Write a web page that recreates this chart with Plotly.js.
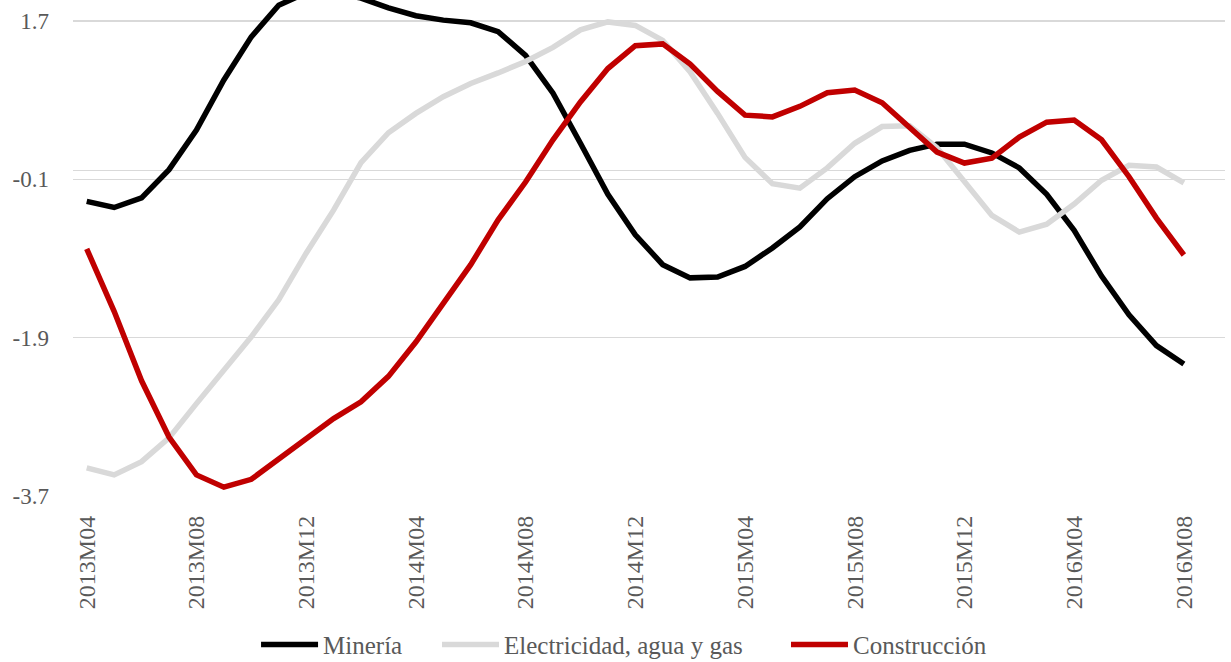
<!DOCTYPE html>
<html>
<head>
<meta charset="utf-8">
<script src="https://cdn.plot.ly/plotly-3.0.1.min.js"></script>
<style>html,body{margin:0;padding:0;background:#fff;}#chart{width:1231px;height:662px;}</style>
</head>
<body>
<div id="chart"></div>
<script>
var months = ["2013M04","2013M05","2013M06","2013M07","2013M08","2013M09","2013M10","2013M11","2013M12",
"2014M01","2014M02","2014M03","2014M04","2014M05","2014M06","2014M07","2014M08","2014M09","2014M10","2014M11","2014M12",
"2015M01","2015M02","2015M03","2015M04","2015M05","2015M06","2015M07","2015M08","2015M09","2015M10","2015M11","2015M12",
"2016M01","2016M02","2016M03","2016M04","2016M05","2016M06","2016M07","2016M08"];

var mineria = [-0.35,-0.42,-0.31,0.01,0.46,1.03,1.52,1.88,2.02,2.03,1.96,1.85,1.76,1.71,1.68,1.58,1.31,0.88,0.31,-0.27,-0.73,
-1.07,-1.22,-1.21,-1.09,-0.88,-0.64,-0.32,-0.07,0.11,0.23,0.30,0.30,0.20,0.03,-0.27,-0.68,-1.20,-1.64,-1.99,-2.20];

var electricidad = [-3.38,-3.46,-3.31,-3.04,-2.65,-2.28,-1.89,-1.47,-0.94,-0.45,0.09,0.43,0.65,0.84,0.99,1.11,1.24,1.40,1.60,1.69,1.65,
1.48,1.12,0.65,0.15,-0.15,-0.20,0.03,0.31,0.50,0.51,0.26,-0.13,-0.51,-0.70,-0.61,-0.38,-0.11,0.06,0.04,-0.14];

var construccion = [-0.89,-1.60,-2.39,-3.03,-3.46,-3.60,-3.51,-3.28,-3.04,-2.82,-2.63,-2.34,-1.95,-1.52,-1.07,-0.56,-0.13,0.35,0.78,1.16,1.42,
1.44,1.21,0.90,0.63,0.61,0.73,0.885,0.915,0.77,0.50,0.21,0.085,0.14,0.38,0.55,0.575,0.35,-0.07,-0.54,-0.96];

var seriesNames = ["Minería","Electricidad, agua y gas","Construcción"];
var xTickVals = ["2013M04","2013M08","2013M12","2014M04","2014M08","2014M12","2015M04","2015M08","2015M12","2016M04","2016M08"];
var yTickVals = [1.7,-0.1,-1.9,-3.7];
var yTickText = ["1.7","-0.1","-1.9","-3.7"];

var fontFam = "Liberation Serif, Times New Roman, serif";
var traces = [
  {x: months, y: mineria, name: seriesNames[0], type: "scatter", mode: "lines", line: {color: "#000000", width: 5.5}, legend: "legend"},
  {x: months, y: electricidad, name: seriesNames[1], type: "scatter", mode: "lines", line: {color: "#d9d9d9", width: 5.5}, legend: "legend2"},
  {x: months, y: construccion, name: seriesNames[2], type: "scatter", mode: "lines", line: {color: "#c00000", width: 5.5}, legend: "legend3"}
];

function leg(xp) {
  return {
    orientation: "h", xref: "container", yref: "container",
    x: xp, xanchor: "left", y: 0.026, yanchor: "middle",
    font: {family: fontFam, size: 25, color: "#595959"},
    itemwidth: 57, bgcolor: "rgba(0,0,0,0)", borderwidth: 0
  };
}

var layout = {
  width: 1231, height: 662,
  margin: {l: 73, r: 6, t: 0, b: 166},
  paper_bgcolor: "#ffffff", plot_bgcolor: "#ffffff",
  showlegend: true,
  font: {family: fontFam, color: "#595959", size: 22},
  xaxis: {
    type: "category", range: [-0.5, 41.5], automargin: false,
    tickmode: "array", tickvals: xTickVals, ticktext: xTickVals,
    tickangle: -90, showgrid: false, zeroline: false, showline: false,
    ticks: "", ticklabelstandoff: 14,
    tickfont: {family: fontFam, size: 24, color: "#595959"}
  },
  yaxis: {
    range: [-3.7, 1.939], automargin: false,
    tickmode: "array", tickvals: yTickVals, ticktext: yTickText,
    showgrid: true, gridcolor: "#d9d9d9", gridwidth: 1.3,
    zeroline: true, zerolinecolor: "#d9d9d9", zerolinewidth: 1.3,
    showline: false, ticks: "", ticklabelstandoff: 23,
    tickfont: {family: fontFam, size: 23, color: "#595959"}
  },
  legend: leg(0.208),
  legend2: leg(0.355),
  legend3: leg(0.6385)
};

Plotly.newPlot("chart", traces, layout, {displayModeBar: false, staticPlot: true});
</script>
</body>
</html>
